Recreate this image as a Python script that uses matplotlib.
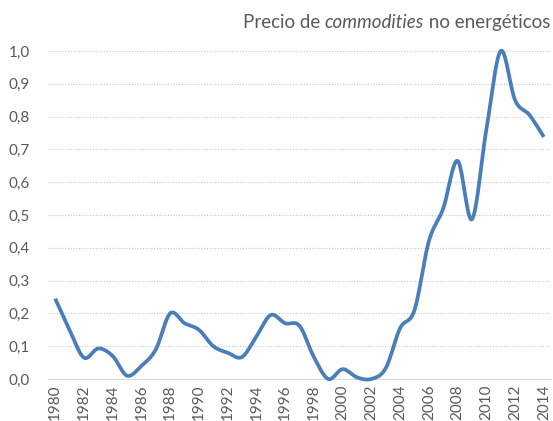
import numpy as np
import matplotlib
matplotlib.use("Agg")
import matplotlib.pyplot as plt

years = list(range(1980, 2015))
values = [0.245, 0.15, 0.065, 0.093, 0.07, 0.01, 0.04, 0.09, 0.20, 0.17,
          0.15, 0.10, 0.08, 0.067, 0.13, 0.195, 0.17, 0.162, 0.067, 0.0,
          0.03, 0.005, 0.0, 0.033, 0.155, 0.21, 0.42, 0.52, 0.665, 0.487,
          0.76, 1.0, 0.85, 0.805, 0.738]
title_plain1 = "Precio de "
title_italic = "commodities"
title_plain2 = " no energéticos"

def smooth(x, y, n=20):
    x = np.asarray(x, float); y = np.asarray(y, float)
    px = np.concatenate([[x[0]], x, [x[-1]]])
    py = np.concatenate([[y[0]], y, [y[-1]]])
    xs, ys = [], []
    t = np.linspace(0, 1, n, endpoint=False)
    for i in range(1, len(px) - 2):
        p0, p1, p2, p3 = (np.array([px[j], py[j]]) for j in range(i - 1, i + 3))
        c1 = p1 + (p2 - p0) / 6
        c2 = p2 - (p3 - p1) / 6
        b = ((1 - t) ** 3)[:, None] * p1 + (3 * (1 - t) ** 2 * t)[:, None] * c1 \
            + (3 * (1 - t) * t ** 2)[:, None] * c2 + (t ** 3)[:, None] * p2
        xs.append(b[:, 0]); ys.append(b[:, 1])
    xs.append([x[-1]]); ys.append([y[-1]])
    return np.concatenate(xs), np.concatenate(ys)

plt.rcParams['font.family'] = ['Lato', 'DejaVu Sans']
fig = plt.figure(figsize=(5.53, 4.21), dpi=100)
ax = fig.add_axes([0.0868, 0.0998, 0.9096, 0.7791])

sx, sy = smooth(years, values)
ax.plot(sx, sy, color='#4a7ebb', lw=2.7, solid_capstyle='butt', clip_on=False, zorder=3)

ax.set_xlim(1979.5, 2014.5)
ax.set_ylim(0, 1.0)
ax.set_yticks(np.arange(0, 1.01, 0.1))
ax.set_yticklabels([f"{v:.1f}".replace('.', ',') for v in np.arange(0, 1.01, 0.1)])
ax.set_xticks(years[::2])
ax.set_xticklabels([str(y) for y in years[::2]], rotation=90)
ax.tick_params(axis='both', length=0, labelsize=11, labelcolor='#595959')
ax.tick_params(axis='y', pad=13)
ax.tick_params(axis='x', pad=4)
for s in ['top', 'right', 'left']:
    ax.spines[s].set_visible(False)
ax.spines['bottom'].set_color('#d9d9d9')
ax.spines['bottom'].set_linewidth(0.8)
ax.yaxis.grid(True, linestyle=(0, (1, 1.5)), color='#c8c8c8', linewidth=0.8)
ax.set_axisbelow(True)

fs = 13.5
t1 = fig.text(0.995, 0.947, title_plain2, ha='right', va='center', fontsize=fs, color='#595959')
fig.canvas.draw()
r = fig.canvas.get_renderer()
bb = t1.get_window_extent(r)
t2 = fig.text(bb.x0 / fig.bbox.width, 0.947, title_italic, ha='right', va='center', fontsize=fs,
              color='#595959', style='italic')
bb2 = t2.get_window_extent(r)
fig.text(bb2.x0 / fig.bbox.width, 0.947, title_plain1, ha='right', va='center', fontsize=fs, color='#595959')

fig.savefig('out.png', dpi=100)
